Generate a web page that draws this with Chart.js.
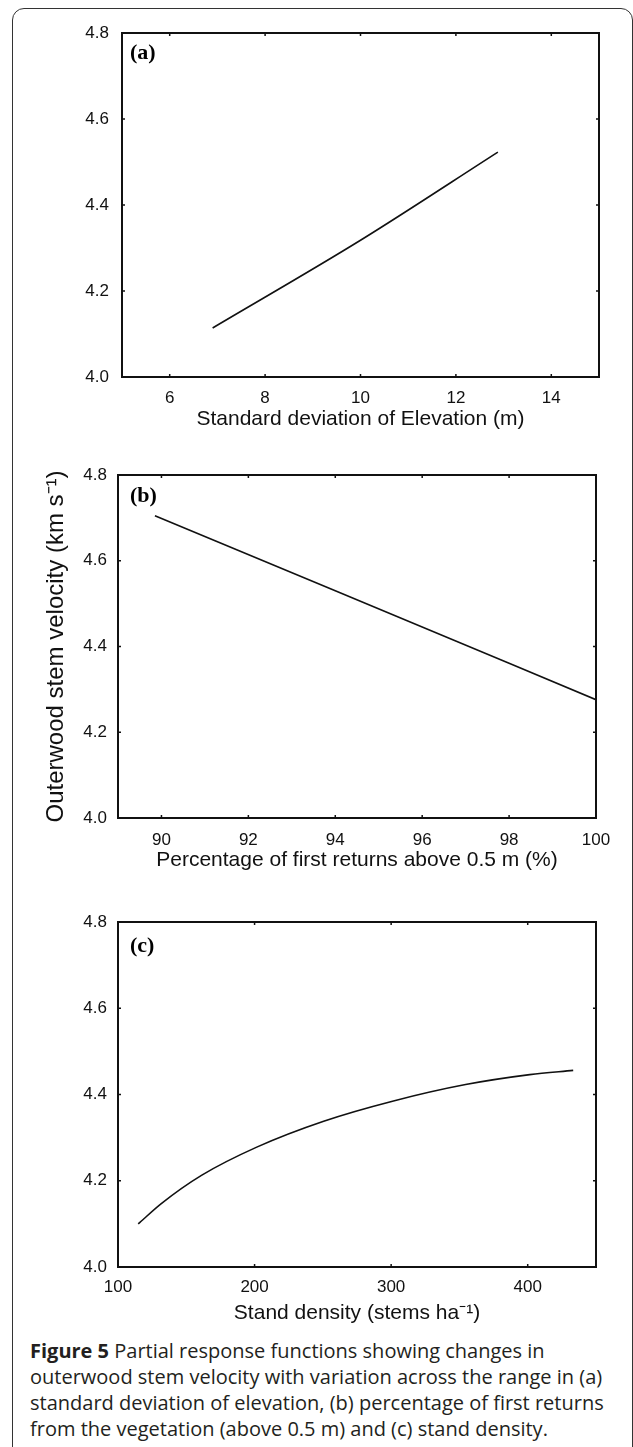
<!DOCTYPE html>
<html>
<head>
<meta charset="utf-8">
<script src="https://cdn.jsdelivr.net/npm/chart.js@4.4.0/dist/chart.umd.min.js"></script>
<style>
  html, body { margin: 0; padding: 0; background: #fff; }
  body { width: 633px; height: 1447px; position: relative; overflow: hidden; }
  #marco { position: absolute; left: 12px; top: 8px; width: 621px; height: 1500px; border: 1.5px solid #333; border-radius: 12px; box-sizing: border-box; }
  canvas { position: absolute; left: 0; }
  #pie { position: absolute; left: 30px; top: 1338px; font-family: 'Open Sans', sans-serif; font-size: 20px; line-height: 26px; color: #231f20; white-space: nowrap; }
</style>
</head>
<body>
<div id="marco"></div>
<canvas id="graficoA" width="633" height="440" style="top:0px"></canvas>
<canvas id="graficoB" width="633" height="445" style="top:440px"></canvas>
<canvas id="graficoC" width="633" height="445" style="top:885px"></canvas>
<div id="pie"><b>Figure 5</b> Partial response functions showing changes in<br>outerwood stem velocity with variation across the range in (a)<br>standard deviation of elevation, (b) percentage of first returns<br>from the vegetation (above 0.5 m) and (c) stand density.</div>
<script>
// --- Datos ---
// Panel (a): desviación estándar de la elevación
const xA = [6.9, 10.0, 12.88];
const yA = [4.114, 4.318, 4.523];
const ticksXA = [6, 8, 10, 12, 14];

// Panel (b): porcentaje de primeros retornos sobre 0.5 m
const xB = [89.85, 94.0, 100.0];
const yB = [4.705, 4.53, 4.276];
const ticksXB = [90, 92, 94, 96, 98, 100];

// Panel (c): densidad del rodal
const xC = [114.8, 131.7, 161.4, 201.6, 250.6, 301.7, 354.5, 401.5, 433.3];
const yC = [4.10, 4.147, 4.213, 4.278, 4.338, 4.385, 4.423, 4.446, 4.456];
const ticksXC = [100, 200, 300, 400];

// Eje Y común a los tres paneles
const ticksY = [4.0, 4.2, 4.4, 4.6, 4.8];

Chart.defaults.font.family = '"Liberation Sans", Arial, sans-serif';
Chart.defaults.color = '#111';

// Dibuja el marco completo del área, las marcas hacia dentro y la letra del panel.
const pluginMarco = {
    id: 'marcoPanel',
    afterDraw(chart, args, opts) {
        const { ctx, chartArea: a, scales } = chart;
        ctx.save();
        ctx.strokeStyle = '#111';
        ctx.lineWidth = 2;
        ctx.strokeRect(a.left, a.top, a.right - a.left, a.bottom - a.top);
        ctx.lineWidth = 1.5;
        ctx.beginPath();
        scales.x.ticks.forEach(t => {
            const px = scales.x.getPixelForValue(t.value);
            ctx.moveTo(px, a.bottom); ctx.lineTo(px, a.bottom - 3);
            ctx.moveTo(px, a.top); ctx.lineTo(px, a.top + 3);
        });
        scales.y.ticks.forEach(t => {
            const py = scales.y.getPixelForValue(t.value);
            ctx.moveTo(a.left, py); ctx.lineTo(a.left + 3, py);
            ctx.moveTo(a.right, py); ctx.lineTo(a.right - 3, py);
        });
        ctx.stroke();
        ctx.font = 'bold 22px "Liberation Serif", "Times New Roman", serif';
        ctx.fillStyle = '#000';
        ctx.textBaseline = 'middle';
        ctx.fillText(opts.letra, 130, a.top + opts.dy);
        ctx.restore();
    }
};

function crearGrafico(id, xs, ys, p) {
    const puntos = xs.map((x, i) => ({ x: x, y: ys[i] }));
    const config = {
        type: 'line',
        data: {
            datasets: [{
                data: puntos,
                borderColor: '#111',
                borderWidth: 1.6,
                pointRadius: 0,
                fill: false,
                cubicInterpolationMode: 'monotone'
            }]
        },
        options: {
            responsive: false,
            animation: false,
            layout: { padding: { top: p.arriba, right: p.derecha, left: 0, bottom: 0 } },
            plugins: {
                legend: { display: false },
                tooltip: { enabled: false },
                marcoPanel: { letra: p.letra, dy: p.dy }
            },
            scales: {
                x: {
                    type: 'linear',
                    min: p.xMin,
                    max: p.xMax,
                    afterBuildTicks: s => { s.ticks = p.ticksX.map(v => ({ value: v })); },
                    afterFit: s => { s.height = p.altoX; },
                    grid: { display: false, drawTicks: false },
                    border: { display: false },
                    ticks: { padding: p.padX, font: { size: 17 }, color: '#111', callback: v => v },
                    title: {
                        display: true,
                        text: p.tituloX,
                        font: { size: 21 },
                        color: '#111',
                        padding: { top: 0, bottom: p.padTitulo }
                    }
                },
                y: {
                    min: 4.0,
                    max: 4.8,
                    afterBuildTicks: s => { s.ticks = ticksY.map(v => ({ value: v })); },
                    afterFit: s => { s.width = p.anchoY; },
                    grid: { display: false, drawTicks: false },
                    border: { display: false },
                    ticks: { padding: p.padY, font: { size: 17 }, color: '#111', callback: v => v.toFixed(1) },
                    title: {
                        display: !!p.tituloY,
                        text: p.tituloY || '',
                        font: { size: 24 },
                        color: '#111',
                        padding: { top: 42, bottom: 0 }
                    }
                }
            }
        },
        plugins: [pluginMarco]
    };
    return new Chart(document.getElementById(id), config);
}

// Panel (a)
crearGrafico('graficoA', xA, yA, {
    letra: '(a)', dy: 20, xMin: 5, xMax: 15, ticksX: ticksXA,
    tituloX: 'Standard deviation of Elevation (m)',
    arriba: 33, derecha: 34, anchoY: 122, altoX: 63, padX: 11, padY: 13, padTitulo: 8
});

// Panel (b)
crearGrafico('graficoB', xB, yB, {
    letra: '(b)', dy: 21, xMin: 89, xMax: 100, ticksX: ticksXB,
    tituloX: 'Percentage of first returns above 0.5 m (%)',
    tituloY: 'Outerwood stem velocity (km s\u207B\u00B9)',
    arriba: 35, derecha: 37, anchoY: 118, altoX: 67, padX: 12, padY: 11, padTitulo: 12
});

// Panel (c)
crearGrafico('graficoC', xC, yC, {
    letra: '(c)', dy: 24, xMin: 100, xMax: 450, ticksX: ticksXC,
    tituloX: 'Stand density (stems ha\u207B\u00B9)',
    arriba: 37, derecha: 37, anchoY: 118, altoX: 63, padX: 10, padY: 11, padTitulo: 4
});
</script>
</body>
</html>
